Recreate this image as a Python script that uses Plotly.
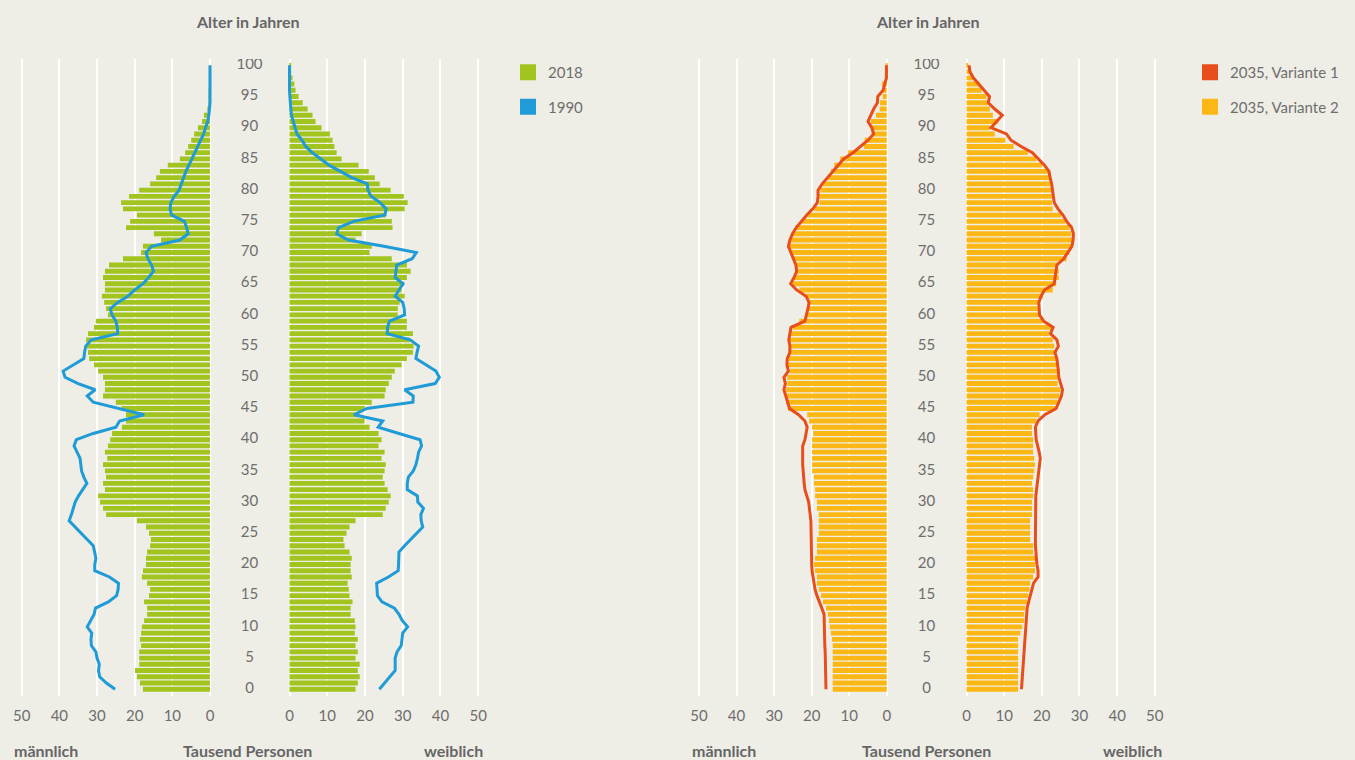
import plotly.graph_objects as go

# ─── DATA (Tausend Personen, Alter 0..100) ───
ages = list(range(101))

male_2018 = [17.8, 18.6, 19.4, 19.9, 18.8, 18.8, 18.8, 18.3, 18.6, 18.3,
             18.1, 17.5, 16.7, 16.7, 17.5, 16.2, 15.9, 16.7, 18.1, 17.8,
             17.0, 17.0, 16.7, 15.9, 15.7, 16.2, 17.0, 19.4, 27.6, 28.4,
             29.2, 29.7, 27.9, 28.4, 27.6, 27.9, 28.4, 27.3, 27.9, 27.1,
             26.5, 26.0, 23.4, 22.3, 22.3, 23.5, 25.0, 28.4, 27.9, 27.9,
             28.4, 29.7, 30.8, 32.1, 32.4, 32.7, 32.9, 32.4, 30.8, 30.3,
             27.1, 27.6, 28.1, 28.7, 27.9, 27.9, 28.4, 27.9, 26.8, 23.1,
             18.3, 17.8, 13.0, 14.9, 22.3, 21.2, 19.4, 23.1, 23.6, 21.5,
             18.8, 15.9, 14.3, 13.3, 11.2, 8.0, 6.6, 5.8, 5.0, 4.2,
             3.2, 2.1, 1.6, 0.7, 0.4, 0.3, 0.2, 0.1, 0.1, 0.0, 0.0]

female_2018 = [17.5, 18.1, 18.6, 18.1, 18.6, 17.5, 18.1, 17.5, 18.1, 17.3,
               17.5, 17.3, 16.2, 16.2, 16.7, 15.9, 15.7, 15.4, 16.5, 16.2,
               16.2, 16.5, 15.9, 14.6, 14.3, 15.1, 15.9, 17.5, 24.7, 25.5,
               26.3, 26.8, 26.0, 25.2, 24.7, 25.2, 25.5, 24.4, 25.2, 23.6,
               24.4, 23.6, 21.2, 19.9, 18.5, 20.0, 21.8, 25.2, 25.5, 26.3,
               27.1, 27.9, 29.7, 31.1, 32.7, 32.9, 31.9, 32.7, 31.1, 31.1,
               28.7, 28.7, 29.2, 30.5, 29.7, 30.3, 31.1, 32.1, 31.1, 27.1,
               21.2, 21.8, 17.5, 19.1, 27.3, 27.1, 25.5, 30.5, 31.3, 30.3,
               26.8, 23.9, 22.6, 21.0, 18.3, 13.8, 12.5, 11.9, 11.4, 10.7,
               8.5, 6.9, 6.1, 4.8, 3.5, 2.4, 1.6, 1.3, 0.8, 0.4, 0.2]

male_1990 = [25.2, 27.5, 29.3, 29.6, 29.4, 30.0, 30.3, 31.5, 31.6, 31.4,
             32.6, 31.8, 30.8, 30.4, 27.0, 24.8, 24.4, 24.3, 26.7, 30.6,
             30.6, 30.3, 30.6, 31.0, 32.6, 34.2, 35.8, 37.4, 36.8, 36.3,
             35.8, 34.9, 33.8, 32.7, 33.5, 34.1, 34.3, 34.5, 35.3, 36.1,
             35.5, 31.0, 25.0, 24.0, 17.5, 24.0, 31.0, 32.6, 30.5, 35.0,
             38.5, 39.0, 36.4, 33.5, 33.3, 33.0, 31.5, 24.5, 24.6, 25.0,
             26.0, 26.5, 24.5, 21.8, 20.0, 17.8, 16.3, 15.0, 15.5, 16.5,
             17.0, 15.5, 8.0, 5.8, 6.2, 6.8, 10.2, 10.6, 10.4, 9.5,
             8.2, 7.6, 7.1, 6.4, 5.6, 4.8, 4.1, 3.2, 2.5, 1.7,
             1.2, 0.6, 0.3, 0.1, 0.0, 0.0, 0.0, 0.0, 0.0, 0.0, 0.0]

female_1990 = [23.8, 25.2, 26.6, 28.0, 28.0, 28.0, 28.5, 29.6, 29.8, 30.0,
               31.3, 29.9, 29.0, 27.8, 24.5, 23.3, 23.2, 23.1, 26.2, 28.8,
               28.9, 29.0, 29.0, 30.5, 32.1, 33.7, 35.3, 34.9, 34.8, 35.5,
               34.0, 33.9, 31.2, 31.2, 31.5, 32.8, 33.5, 33.9, 34.2, 35.0,
               34.6, 29.0, 23.5, 24.7, 17.1, 20.5, 32.7, 32.8, 30.5, 38.6,
               39.7, 38.8, 36.0, 33.5, 33.8, 34.2, 32.0, 25.9, 26.0, 26.5,
               30.5, 30.4, 30.0, 28.0, 29.0, 30.1, 28.0, 28.1, 28.4, 32.5,
               33.6, 25.0, 15.6, 12.5, 13.0, 17.0, 25.3, 25.6, 24.0, 21.6,
               20.8, 20.6, 16.5, 13.5, 10.5, 8.3, 6.0, 4.3, 3.3, 2.0,
               1.4, 1.0, 0.5, 0.3, 0.2, 0.1, 0.0, 0.0, 0.0, 0.0, 0.0]

male_2035_v2 = [14.4, 14.4, 14.4, 14.4, 14.4, 14.4, 14.4, 14.4, 14.6, 14.9,
                15.2, 15.4, 15.7, 16.2, 17.0, 17.5, 18.1, 18.6, 18.6, 19.1,
                19.4, 19.1, 18.6, 18.6, 18.6, 18.1, 18.1, 18.1, 18.1, 18.6,
                18.6, 19.1, 19.1, 19.4, 19.4, 19.9, 19.9, 19.9, 19.9, 19.9,
                19.9, 19.6, 19.9, 20.7, 21.2, 26.3, 26.8, 27.0, 26.8, 26.5,
                26.5, 25.8, 26.5, 26.2, 26.2, 25.5, 25.8, 25.5, 25.0, 23.3,
                21.5, 21.1, 20.9, 21.5, 23.3, 25.0, 24.7, 24.4, 24.4, 25.0,
                25.5, 25.8, 25.5, 25.3, 24.4, 22.8, 21.1, 19.3, 17.9, 17.9,
                17.7, 17.1, 15.6, 14.9, 14.0, 12.4, 10.3, 6.1, 5.9, 4.0,
                3.9, 4.2, 2.9, 1.9, 1.8, 1.1, 1.1, 1.3, 0.5, 0.2, 0.1]

male_2035_v1 = [16.2, 16.2, 16.3, 16.3, 16.4, 16.4, 16.4, 16.5, 16.5, 16.6,
                16.6, 16.7, 16.7, 17.3, 18.0, 18.6, 19.1, 19.4, 19.6, 19.9,
                20.0, 20.0, 20.0, 20.0, 20.0, 20.0, 20.0, 20.2, 20.4, 20.6,
                20.8, 21.3, 21.8, 22.0, 22.2, 22.4, 22.4, 22.4, 22.4, 22.4,
                21.8, 21.4, 21.2, 21.8, 23.5, 25.9, 26.4, 26.9, 27.4, 27.0,
                27.4, 26.2, 26.6, 26.5, 25.8, 25.8, 26.1, 25.8, 25.5, 21.8,
                21.3, 21.0, 20.7, 21.5, 24.0, 25.6, 24.7, 24.0, 24.2, 24.8,
                25.5, 26.2, 25.8, 25.1, 24.1, 22.8, 21.3, 19.7, 18.5, 18.3,
                18.3, 17.2, 15.8, 14.3, 13.0, 11.5, 9.0, 7.0, 5.0, 3.5,
                4.0, 5.0, 4.3, 3.5, 2.5, 2.4, 1.0, 0.5, 0.1, 0.1, 0.1]

female_2035_v2 = [13.7, 13.7, 13.7, 13.7, 13.7, 13.7, 13.7, 13.7, 13.7, 14.3,
                  14.8, 15.3, 15.3, 15.6, 16.1, 16.4, 16.7, 16.9, 17.7, 18.2,
                  18.2, 18.2, 17.7, 17.7, 16.9, 16.9, 16.9, 16.9, 17.4, 17.4,
                  17.4, 17.7, 17.7, 17.4, 17.7, 18.0, 18.2, 18.0, 17.7, 17.7,
                  17.7, 17.4, 17.4, 18.5, 19.4, 23.6, 24.2, 24.7, 24.9, 24.2,
                  24.2, 24.2, 24.2, 24.0, 23.6, 23.3, 22.9, 22.0, 22.5, 20.3,
                  19.4, 19.0, 19.0, 20.3, 22.9, 23.8, 24.5, 24.5, 24.2, 26.6,
                  27.3, 28.0, 28.0, 27.8, 27.3, 26.3, 25.1, 22.9, 22.7, 22.7,
                  22.5, 22.2, 22.0, 21.6, 20.1, 18.5, 16.3, 12.5, 10.3, 7.5,
                  6.2, 8.4, 7.0, 6.2, 5.7, 5.3, 4.0, 3.5, 1.8, 1.0, 0.3]

female_2035_v1 = [14.6, 14.7, 14.8, 14.9, 15.0, 15.1, 15.2, 15.3, 15.4, 15.5,
                  15.6, 15.7, 15.8, 16.1, 16.5, 16.9, 17.4, 17.8, 19.0, 19.0,
                  18.7, 18.5, 18.3, 18.3, 18.3, 18.3, 18.3, 18.3, 18.3, 18.3,
                  18.3, 18.4, 18.6, 18.8, 19.1, 19.3, 19.4, 19.6, 19.3, 18.9,
                  18.5, 18.4, 18.3, 19.0, 20.8, 23.8, 24.5, 25.2, 25.5, 24.9,
                  24.5, 24.4, 24.2, 24.0, 23.5, 24.4, 24.0, 22.3, 23.0, 20.5,
                  19.4, 19.3, 19.2, 19.8, 20.7, 23.3, 23.6, 23.9, 24.0, 25.8,
                  27.0, 28.0, 28.3, 28.4, 27.9, 26.6, 25.6, 24.3, 23.3, 23.1,
                  22.9, 22.6, 22.2, 21.9, 20.7, 19.0, 17.5, 14.5, 11.8, 10.6,
                  6.5, 8.0, 9.5, 7.5, 5.8, 6.1, 4.6, 3.2, 1.8, 0.9, 0.7]

age_ticks = list(range(0, 101, 5))
x_ticks = [0, 10, 20, 30, 40, 50]

# ─── THEME ───
W, H = 1355, 760
_BG = "#eeede6"
_GRID = "#ffffff"
_TEXT = "#6e6e6e"
_GREEN = "#a2c41f"
_BLUE = "#1f9bd7"
_RED = "#e84e1c"
_YELLOW = "#fbb815"
_FONT = "Lato, sans-serif"


def px_x(x):
    return x / W


def px_y(y):
    return 1 - y / H


def x_axis(x0, x1, rng):
    return dict(domain=[px_x(x0), px_x(x1)], range=rng, anchor="y",
                tickvals=x_ticks, showgrid=True, gridcolor=_GRID, gridwidth=2,
                zeroline=False, showline=False, ticks="", automargin=False,
                ticklabelstandoff=9,
                tickfont=dict(size=15, color=_TEXT, family=_FONT))


fig = go.Figure()

# left pyramid: 2018 bars + 1990 lines
fig.add_trace(go.Bar(x=male_2018, y=ages, orientation="h", xaxis="x", yaxis="y",
                     marker=dict(color=_GREEN, line_width=0), width=0.78, showlegend=False))
fig.add_trace(go.Bar(x=female_2018, y=ages, orientation="h", xaxis="x2", yaxis="y",
                     marker=dict(color=_GREEN, line_width=0), width=0.78, showlegend=False))
fig.add_trace(go.Scatter(x=male_1990, y=ages, mode="lines", xaxis="x", yaxis="y",
                         line=dict(color=_BLUE, width=3), showlegend=False))
fig.add_trace(go.Scatter(x=female_1990, y=ages, mode="lines", xaxis="x2", yaxis="y",
                         line=dict(color=_BLUE, width=3), showlegend=False))

# right pyramid: 2035 Variante 2 bars + Variante 1 lines
fig.add_trace(go.Bar(x=male_2035_v2, y=ages, orientation="h", xaxis="x3", yaxis="y",
                     marker=dict(color=_YELLOW, line_width=0), width=0.78, showlegend=False))
fig.add_trace(go.Bar(x=female_2035_v2, y=ages, orientation="h", xaxis="x4", yaxis="y",
                     marker=dict(color=_YELLOW, line_width=0), width=0.78, showlegend=False))
fig.add_trace(go.Scatter(x=male_2035_v1, y=ages, mode="lines", xaxis="x3", yaxis="y",
                         line=dict(color=_RED, width=3), showlegend=False))
fig.add_trace(go.Scatter(x=female_2035_v1, y=ages, mode="lines", xaxis="x4", yaxis="y",
                         line=dict(color=_RED, width=3), showlegend=False))

# age labels in the middle column of each pyramid
for xa in ("x5", "x6"):
    fig.add_trace(go.Scatter(x=[0.5] * len(age_ticks), y=age_ticks, mode="text",
                             text=[str(a) for a in age_ticks], xaxis=xa, yaxis="y",
                             textfont=dict(size=15, color=_TEXT, family=_FONT),
                             hoverinfo="skip", showlegend=False))

# legend entries (square swatches)
for name, color, leg in [("2018", _GREEN, "legend"), ("1990", _BLUE, "legend"),
                         ("2035, Variante 1", _RED, "legend2"),
                         ("2035, Variante 2", _YELLOW, "legend2")]:
    fig.add_trace(go.Scatter(x=[None], y=[None], mode="markers", name=name, legend=leg,
                             legendgroup=name, xaxis="x", yaxis="y",
                             marker=dict(symbol="square", size=16, color=color)))

_legend = dict(yanchor="top", xanchor="left", bgcolor="rgba(0,0,0,0)",
               font=dict(size=15, color=_TEXT, family=_FONT),
               tracegroupgap=12, itemwidth=30)

ann_font = dict(size=16, color="#666666", family=_FONT)
annotations = []
for cx, left, right, mid in [(248, 12, 485, 247), (928, 690, 1164, 927)]:
    annotations += [
        dict(text="<b>Alter in Jahren</b>", x=px_x(cx), y=px_y(22), xanchor="center", yanchor="middle"),
        dict(text="<b>männlich</b>", x=px_x(left), y=px_y(750), xanchor="left", yanchor="middle"),
        dict(text="<b>Tausend Personen</b>", x=px_x(mid), y=px_y(750), xanchor="center", yanchor="middle"),
        dict(text="<b>weiblich</b>", x=px_x(right), y=px_y(750), xanchor="right", yanchor="middle"),
    ]
for a in annotations:
    a.update(xref="paper", yref="paper", showarrow=False, font=ann_font)

fig.update_layout(
    width=W, height=H,
    paper_bgcolor=_BG, plot_bgcolor=_BG,
    font=dict(family=_FONT, color=_TEXT, size=15),
    margin=dict(l=0, r=0, t=0, b=0, autoexpand=False),
    barmode="overlay",
    xaxis=x_axis(19.44, 212.26, [50.6, -0.6]),
    xaxis2=x_axis(287.24, 480.46, [-0.6, 50.6]),
    xaxis3=x_axis(696.75, 889.05, [50.6, -0.6]),
    xaxis4=x_axis(964.24, 1157.06, [-0.6, 50.6]),
    xaxis5=dict(domain=[px_x(213), px_x(286)], range=[0, 1], visible=False, anchor="y"),
    xaxis6=dict(domain=[px_x(890), px_x(963)], range=[0, 1], visible=False, anchor="y"),
    yaxis=dict(domain=[px_y(695.5), px_y(59.1)], range=[-1, 101], anchor="x",
               showgrid=False, zeroline=False, showticklabels=False, ticks="",
               automargin=False),
    legend=dict(_legend, x=px_x(508), y=px_y(56)),
    legend2=dict(_legend, x=px_x(1190), y=px_y(56)),
    annotations=annotations,
    hovermode="closest",
)

fig.write_html(
    "out.html",
    config={"displayModeBar": False},
    post_script="document.body.style.margin='0';"
                "document.body.style.overflow='hidden';"
                "document.documentElement.style.overflow='hidden';",
)
